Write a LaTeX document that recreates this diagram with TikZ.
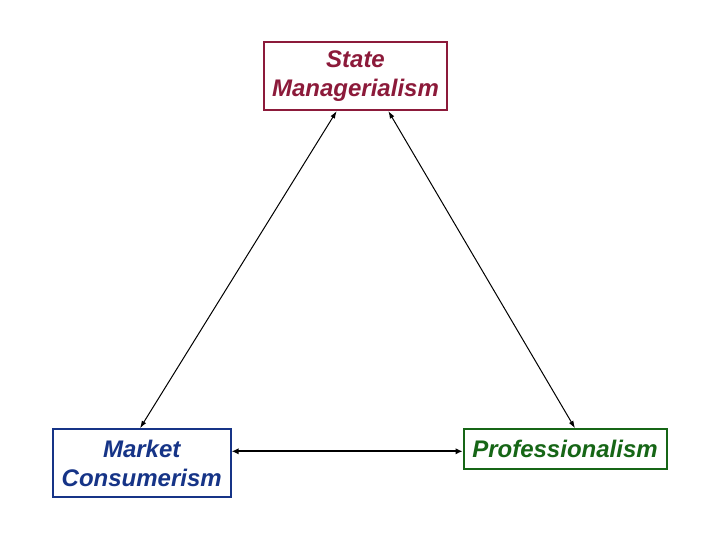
\documentclass[tikz,border=0pt]{standalone}
\usepackage{fontspec}
\setmainfont{Liberation Sans}
\usetikzlibrary{arrows.meta}
\definecolor{smred}{RGB}{140,26,58}
\definecolor{mcblue}{RGB}{22,52,135}
\definecolor{prgreen}{RGB}{22,102,22}
\tikzset{
  box/.style={draw, line width=2pt, fill=white, align=center, inner sep=0pt,
    font=\fontsize{24}{29}\selectfont\bfseries\itshape},
  thinarrow/.style={line width=1pt, {Latex[length=7.5pt,width=5pt]}-{Latex[length=7.5pt,width=5pt]}},
  thickarrow/.style={line width=2.2pt, {Latex[length=7pt,width=6.5pt]}-{Latex[length=7pt,width=6.5pt]}}
}
\begin{document}
\begin{tikzpicture}[x=1pt,y=-1pt]
\useasboundingbox (0,0) rectangle (720,540);
\node[box, draw=smred, text=smred, minimum width=183pt, minimum height=68pt] (sm) at (355.5,76) {State\\Managerialism};
\node[box, draw=mcblue, text=mcblue, minimum width=178pt, minimum height=68pt] (mc) at (141.7,463.3) {Market\\Consumerism};
\node[box, draw=prgreen, text=prgreen, minimum width=203pt, minimum height=40pt] (pr) at (565,449.3) {Professionalism};
\coordinate (a1) at ([xshift=-18.8pt]sm.south);
\coordinate (a2) at ([xshift=32.8pt]sm.south);
\coordinate (b1) at ([xshift=-1.7pt]mc.north);
\coordinate (b2) at ([xshift=10pt]pr.north);
\coordinate (h1) at ([yshift=12pt]mc.east);
\coordinate (h2) at (h1 -| pr.west);
\draw[thinarrow] (a1) -- (b1);
\draw[thinarrow] (a2) -- (b2);
\draw[thickarrow] (h1) -- (h2);
\end{tikzpicture}
\end{document}
